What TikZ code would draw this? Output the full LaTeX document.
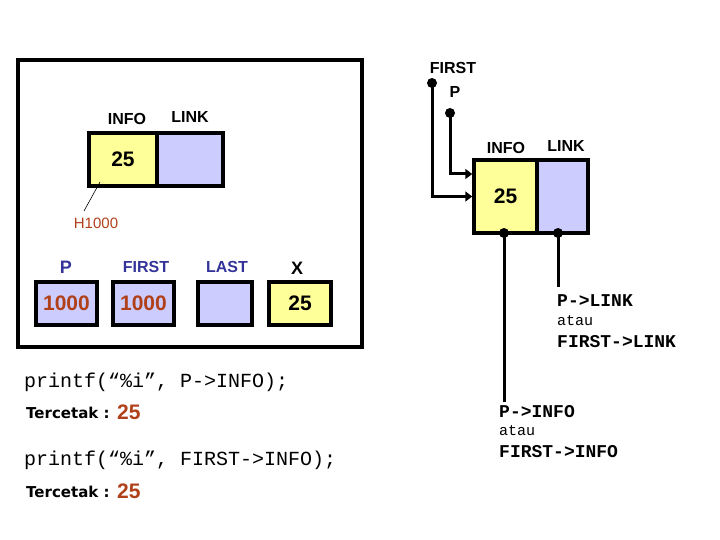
\documentclass[tikz,border=0pt]{standalone}
\usepackage{fontspec}
\setmainfont{Liberation Sans}
\newfontfamily\monof{Liberation Mono}
\newfontfamily\tercf{DejaVu Sans}
\usetikzlibrary{arrows.meta}
\definecolor{cellY}{HTML}{FFFF99}
\definecolor{cellB}{HTML}{CCCCFF}
\definecolor{brownT}{HTML}{B0401A}
\definecolor{blueT}{HTML}{333399}
\tikzset{
  cell/.style={draw=black,line width=3.5pt,minimum height=#1,inner sep=0pt,anchor=center},
  yc/.style={fill=cellY},
  bc/.style={fill=cellB},
  lbl/.style={font=\fontsize{16}{18}\selectfont\bfseries,inner sep=0pt},
  val/.style={font=\fontsize{21}{23}\selectfont\bfseries},
  mono/.style={font=\fontsize{18}{20}\monof\bfseries,inner sep=0pt,anchor=west},
  monor/.style={font=\fontsize{15}{17}\monof,inner sep=0pt,anchor=west},
  code/.style={font=\fontsize{20}{22}\monof,inner sep=0pt,anchor=west},
  terc/.style={font=\fontsize{15}{17}\tercf\bfseries,inner sep=0pt,anchor=west},
  conn/.style={line width=3pt},
  dot/.style={circle,fill=black,inner sep=0pt,minimum size=10pt},
  arr/.style={conn,-{Triangle[length=7pt,width=10pt]}}
}
\begin{document}
\begin{tikzpicture}[x=1pt,y=-1pt]
\useasboundingbox (0,0) rectangle (720,540);
% frame
\draw[line width=3.5pt] (18,60) rectangle (362,347);
% left node
\node[cell=53pt,yc,minimum width=68pt,val] (info1) at (123,159.5) {25};
\node[cell=53pt,bc,minimum width=66pt] (link1) at (190,159.5) {};
\node[lbl] (info1l) at (127,119) {INFO};
\node[lbl] (link1l) at (190,117) {LINK};
\coordinate (hs) at (100,182);
\node[font=\fontsize{15}{17}\selectfont,text=brownT,inner sep=0pt] (h1000) at (96,223) {H1000};
\draw[line width=0.6pt] (hs) -- (84,211);
% variables
\node[cell=43pt,bc,minimum width=61pt,val,text=brownT] (pbox) at (66.5,303.5) {1000};
\node[cell=43pt,bc,minimum width=61pt,val,text=brownT] (fbox) at (143.5,303.5) {1000};
\node[cell=43pt,bc,minimum width=54pt] (lbox) at (225,303.5) {};
\node[cell=43pt,yc,minimum width=62pt,val] (xbox) at (300,303.5) {25};
\node[lbl,text=blueT,font=\fontsize{18}{20}\selectfont\bfseries] (pl) at (66,267) {P};
\node[lbl,text=blueT] (fl) at (146,267) {FIRST};
\node[lbl,text=blueT] (ll) at (227,267) {LAST};
\node[lbl,font=\fontsize{18}{20}\selectfont\bfseries] (xl) at (297,268) {X};
% right node
\node[cell=73pt,yc,minimum width=63pt,val] (info2) at (505.5,196.5) {25};
\node[cell=73pt,bc,minimum width=51pt] (link2) at (562.5,196.5) {};
\node[lbl] (info2l) at (506,148) {INFO};
\node[lbl] (link2l) at (566,146) {LINK};
\node[lbl] (firstl) at (453,68) {FIRST};
\node[lbl] (pl2) at (455,92) {P};
\node[dot] (fdot) at (432,83) {};
\node[dot] (pdot) at (450,113) {};
\draw[arr] (fdot.center) |- (info2.west);
\draw[arr] (pdot.center) |- ([yshift=22.5pt]info2.west);
\node[dot] (idot) at (504,233) {};
\node[dot] (ldot) at (558,233) {};
\coordinate (iend) at (504,402);
\coordinate (lend) at (558,287);
\draw[conn] (idot.center) -- (iend);
\draw[conn] (ldot.center) -- (lend);
\node[mono] (pl1) at (557,301) {P->LINK};
\node[monor] (at1) at (557,321) {atau};
\node[mono] (fl1) at (557,342) {FIRST->LINK};
\node[mono] (pi1) at (499,412) {P->INFO};
\node[monor] (at2) at (499,431) {atau};
\node[mono] (fi1) at (499,452) {FIRST->INFO};
% code
\node[code] (c1) at (24,382) {printf(“\%i”, P->INFO);};
\node[terc] (t1) at (26,413) {Tercetak :};
\node[val,text=brownT,anchor=west,inner sep=0pt] (v1) at (117,412) {25};
\node[code] (c2) at (24,460) {printf(“\%i”, FIRST->INFO);};
\node[terc] (t2) at (26,492) {Tercetak :};
\node[val,text=brownT,anchor=west,inner sep=0pt] (v2) at (117,491) {25};
\end{tikzpicture}
\end{document}
